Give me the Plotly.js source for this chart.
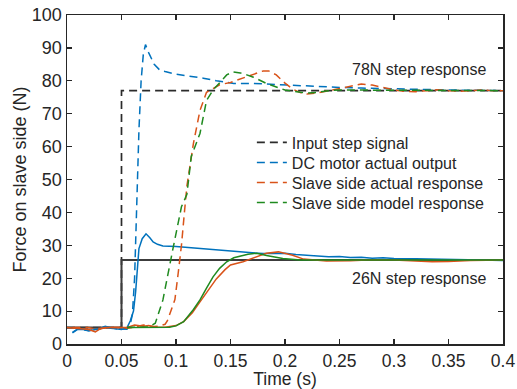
<!DOCTYPE html>
<html>
<head>
<meta charset="utf-8">
<script src="https://cdn.plot.ly/plotly-3.0.1.min.js"></script>
<style>html,body{margin:0;padding:0;background:#fff;}#chart{width:517px;height:389px;}</style>
</head>
<body>
<div id="chart"></div>
<script>
// ---- data ----
var stepX = [0, 0.05, 0.05, 0.4];
var step78Y = [5, 5, 77, 77];
var step26Y = [5, 5, 25.5, 25.5];

var dc78X = [0.005,0.01,0.015,0.02,0.025,0.03,0.035,0.04,0.045,0.05,0.055,0.058,0.06,0.062,0.064,0.066,0.068,0.07,0.072,0.075,0.08,0.085,0.09,0.1,0.11,0.125,0.137,0.153,0.17,0.183,0.2,0.214,0.23,0.25,0.27,0.3,0.32,0.35,0.38,0.4];
var dc78Y = [3.5,4.6,4.3,4.0,4.4,4.6,5.3,4.8,4.6,4.5,4.5,6,9,20,44,65,80,88,91,88.5,85,83.3,82.8,82,81.5,80.8,80,79.2,79.2,79,78.8,78.4,78.2,78,77.8,77.5,77.3,77.2,77.1,77];

var dc26X = [0.005,0.01,0.015,0.02,0.025,0.03,0.035,0.04,0.045,0.05,0.055,0.058,0.061,0.063,0.066,0.069,0.0725,0.076,0.079,0.083,0.088,0.1,0.11,0.12,0.13,0.14,0.15,0.16,0.17,0.18,0.19,0.2,0.21,0.22,0.23,0.24,0.25,0.26,0.27,0.28,0.29,0.3,0.32,0.34,0.36,0.38,0.4];
var dc26Y = [3.4,4.5,4.4,4.0,4.3,4.6,5.4,4.9,4.6,4.4,4.9,7,10,16,29,32,33.5,32.3,31,30.3,29.8,29.6,29.3,29,28.8,28.5,28.2,28,27.7,27.5,27.5,27.6,27.2,27,26.8,26.5,26.6,26.3,26.4,26.1,26.2,26,25.9,25.7,25.6,25.5,25.4];

var act78X = [0.005,0.01,0.015,0.02,0.025,0.03,0.04,0.05,0.055,0.06,0.065,0.07,0.075,0.08,0.085,0.09,0.092,0.099,0.102,0.105,0.108,0.11,0.116,0.122,0.128,0.133,0.14,0.15,0.16,0.168,0.18,0.185,0.192,0.2,0.207,0.214,0.22,0.23,0.24,0.25,0.26,0.27,0.28,0.29,0.3,0.31,0.32,0.33,0.34,0.35,0.36,0.37,0.38,0.39,0.4];
var act78Y = [5,5,5.2,5,4.6,4.8,5,5,4.8,5,5.3,5.8,5.5,5.3,5.5,6,7,13.5,21.5,30,41,48,61,71,76.5,77.5,78.8,79.5,80.7,81.8,83,83,81.8,79.3,77.5,76.4,76,76.3,77,77.8,78.5,79,78.7,78,77.2,76.8,76.7,77,77.3,77,76.8,77,77.2,77,77];

var act26X = [0,0.01,0.015,0.02,0.026,0.03,0.035,0.04,0.05,0.055,0.062,0.07,0.075,0.08,0.09,0.1,0.107,0.115,0.122,0.13,0.137,0.145,0.15,0.1615,0.171,0.183,0.194,0.207,0.217,0.238,0.26,0.28,0.3,0.32,0.335,0.35,0.37,0.4];
var act26Y = [5,4.8,4.5,4.4,3.7,4.5,5,5,4.8,5,5.8,5.4,5.6,5.2,5.1,5.6,6.8,9.5,12.8,16.5,19.8,22.6,24,25,26.1,27.6,28,27,25.8,25.2,25.3,25.6,25.5,25.3,25,25.1,25.4,25.5];

var mod78X = [0.055,0.07,0.075,0.081,0.088,0.0976,0.105,0.11,0.114,0.122,0.128,0.134,0.1405,0.1465,0.152,0.159,0.165,0.171,0.183,0.2,0.214,0.22,0.23,0.24,0.25,0.27,0.3,0.35,0.4];
var mod78Y = [5,5,5.2,6.3,13.4,29.6,41.7,45.5,57,64,74,77.2,79.6,81.8,82.7,82.4,81.8,81.1,79.2,77.2,76.5,76.3,76.5,77,77.2,77.2,77,77,77];

var mod26X = [0.055,0.07,0.094,0.1,0.107,0.116,0.122,0.128,0.134,0.14,0.1465,0.153,0.159,0.166,0.174,0.183,0.198,0.214,0.24,0.3,0.4];
var mod26Y = [5,5,5.1,5.5,6.8,10.5,13.4,17,20.4,23,25,26.2,26.8,27.3,27.6,26.9,26,25.5,25.5,25.5,25.5];

var seriesNames = ['Input step signal','DC motor actual output','Slave side actual response','Slave side model response'];
var seriesColors = ['#2b2b2b','#0072BD','#D95319','#1f8a1f'];
var annTexts = ['78N step response','26N step response'];
var annX = [0.386, 0.386];
var annY = [83.5, 20];
var xTicks = [0,0.05,0.1,0.15,0.2,0.25,0.3,0.35,0.4];
var xTickText = ['0','0.05','0.1','0.15','0.2','0.25','0.3','0.35','0.4'];
var yTicks = [0,10,20,30,40,50,60,70,80,90,100];

// ---- traces ----
var DASH = '8px,5px';
var LW = 1.5;
function tr(x, y, i, dashed, w, col) {
  return {
    x: x, y: y, type: 'scatter', mode: 'lines',
    name: seriesNames[i],
    showlegend: dashed,
    line: {color: col || seriesColors[i], width: w || LW, dash: dashed ? DASH : 'solid'},
    hoverinfo: 'skip'
  };
}
var data = [
  tr(stepX, step78Y, 0, true, 1.7),
  tr(stepX, step26Y, 0, false, 2, '#3c3c3c'),
  tr(dc78X, dc78Y, 1, true),
  tr(dc26X, dc26Y, 1, false),
  tr(act78X, act78Y, 2, true),
  tr(act26X, act26Y, 2, false),
  tr(mod78X, mod78Y, 3, true),
  tr(mod26X, mod26Y, 3, false)
];

var FONT = 'Arial, "Liberation Sans", Helvetica, sans-serif';
var axisCommon = {
  showline: true, mirror: 'ticks', linecolor: '#262626', linewidth: 1.5,
  ticks: 'inside', ticklen: 5, tickwidth: 1.2, tickcolor: '#262626',
  showgrid: false, zeroline: false,
  tickfont: {family: FONT, size: 18, color: '#262626'}
};
var layout = {
  width: 517, height: 389,
  margin: {l: 67, r: 14, t: 15, b: 45, pad: 0},
  paper_bgcolor: '#ffffff', plot_bgcolor: '#ffffff',
  font: {family: FONT, color: '#262626'},
  showlegend: true,
  legend: {
    x: 0.424, y: 0.664, xanchor: 'left', yanchor: 'top',
    bgcolor: 'rgba(255,255,255,0)', borderwidth: 0,
    font: {family: FONT, size: 16, color: '#262626'}
  },
  xaxis: Object.assign({}, axisCommon, {
    range: [0, 0.4], tickvals: xTicks, ticktext: xTickText,
    tickfont: {family: FONT, size: 17.5, color: '#262626'},
    title: {text: 'Time (s)', font: {family: FONT, size: 17.5, color: '#262626'}, standoff: 5}
  }),
  yaxis: Object.assign({}, axisCommon, {
    range: [0, 100], tickvals: yTicks,
    title: {text: 'Force on slave side (N)', font: {family: FONT, size: 18, color: '#262626'}, standoff: 0}
  }),
  annotations: annTexts.map(function (t, i) {
    return {x: annX[i], y: annY[i], xref: 'x', yref: 'y', text: t, showarrow: false,
      xanchor: 'right', yanchor: 'middle', font: {family: FONT, size: 16, color: '#262626'}};
  })
};

Plotly.newPlot('chart', data, layout, {staticPlot: true, displayModeBar: false}).then(function (gd) {
  // tighten legend row spacing to 20px like the reference
  var items = gd.querySelectorAll('.legend .traces');
  if (!items.length) return;
  var m0 = /translate\(\s*([-\d.]+)[ ,]+([-\d.]+)/.exec(items[0].getAttribute('transform') || '');
  if (!m0) return;
  var y0 = parseFloat(m0[2]);
  for (var i = 0; i < items.length; i++) {
    var m = /translate\(\s*([-\d.]+)[ ,]+([-\d.]+)/.exec(items[i].getAttribute('transform') || '');
    var xx = m ? parseFloat(m[1]) : 0;
    items[i].setAttribute('transform', 'translate(' + xx + ',' + (y0 + i * 20) + ')');
  }
});
</script>
</body>
</html>
